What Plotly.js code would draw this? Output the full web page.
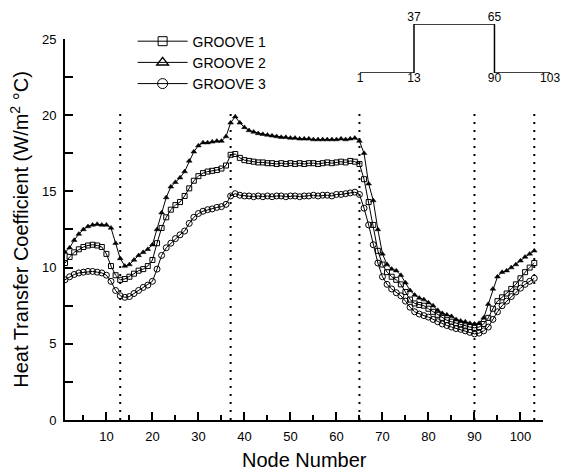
<!DOCTYPE html>
<html>
<head>
<meta charset="utf-8">
<script src="https://cdn.plot.ly/plotly-3.0.1.min.js"></script>
<style>html,body{margin:0;padding:0;background:#fff;}#chart{width:565px;height:471px;}</style>
</head>
<body>
<div id="chart"></div>
<script>
// Node numbers 1..103
var nodes = [];
for (var i = 1; i <= 103; i++) nodes.push(i);

var groove1 = [
  10.3, 10.7, 11.0, 11.2, 11.35, 11.45, 11.5, 11.45, 11.35, 10.9,
  10.1, 9.5, 9.2, 9.25, 9.4, 9.6, 9.8, 9.9, 10.1, 10.5,
  11.6, 12.6, 13.3, 13.8, 14.1, 14.3, 14.7, 15.2, 15.7, 16.0,
  16.2, 16.3, 16.35, 16.4, 16.5, 16.7, 17.4, 17.45, 17.2, 17.05,
  17.0, 16.95, 16.9, 16.9, 16.85, 16.85, 16.8, 16.85, 16.8, 16.85,
  16.8, 16.85, 16.8, 16.85, 16.85, 16.8, 16.85, 16.9, 16.85, 16.9,
  16.95, 16.9, 17.0, 16.95, 16.8, 15.8, 14.3, 12.8, 11.1, 10.2,
  9.7, 9.4, 9.2, 8.9, 8.4, 7.9, 7.65, 7.55, 7.5, 7.3,
  7.1, 6.9, 6.7, 6.55, 6.45, 6.35, 6.25, 6.15, 6.1, 6.05,
  6.1, 6.3, 6.7, 7.3, 7.8, 8.05, 8.3, 8.6, 8.9, 9.3,
  9.7, 10.0, 10.3
];

var groove2 = [
  11.0, 11.3, 11.8, 12.2, 12.5, 12.7, 12.8, 12.85, 12.8, 12.8,
  12.6, 11.6, 10.6, 10.1, 10.2, 10.5, 10.8, 11.0, 11.2, 11.5,
  12.5, 13.6, 14.6, 15.3, 15.6, 15.9, 16.3, 17.0, 17.6, 18.0,
  18.2, 18.2, 18.25, 18.3, 18.3, 18.6, 19.5, 19.9, 19.5, 19.2,
  19.0, 18.9, 18.8, 18.75, 18.7, 18.65, 18.6, 18.55, 18.55, 18.5,
  18.5, 18.45, 18.45, 18.45, 18.4, 18.4, 18.4, 18.4, 18.4, 18.4,
  18.45, 18.4, 18.45, 18.5, 18.3, 17.5, 15.5, 14.4, 12.5, 10.9,
  10.2, 9.9, 9.8, 9.5, 9.0, 8.5, 8.2, 8.0, 7.9, 7.7,
  7.5, 7.2, 7.0, 6.9, 6.8, 6.6, 6.5, 6.45, 6.35, 6.3,
  6.35, 6.7, 7.6, 8.6, 9.4, 9.7, 9.8, 10.0, 10.2, 10.45,
  10.7, 10.9, 11.1
];

var groove3 = [
  9.2, 9.4, 9.55, 9.65, 9.7, 9.75, 9.75, 9.7, 9.65, 9.5,
  9.1, 8.5, 8.15, 8.05, 8.1, 8.3, 8.5, 8.7, 8.85, 9.1,
  9.9, 10.8, 11.3, 11.6, 11.9, 12.15, 12.4, 12.9, 13.3, 13.55,
  13.7, 13.8, 13.85, 13.95, 14.0, 14.15, 14.7, 14.85, 14.75, 14.7,
  14.7, 14.65, 14.7, 14.65, 14.7, 14.65, 14.7, 14.7, 14.65, 14.7,
  14.7, 14.65, 14.7, 14.7, 14.75, 14.7, 14.75, 14.75, 14.7, 14.8,
  14.8, 14.85, 14.9, 14.95, 14.8, 13.9, 12.8, 11.5, 10.3, 9.4,
  8.9, 8.6, 8.35, 8.15, 7.8, 7.4, 7.1, 6.95, 6.85, 6.75,
  6.6, 6.45, 6.3, 6.2, 6.1, 6.0, 5.95, 5.85, 5.75, 5.65,
  5.7, 5.85, 6.1, 6.6, 7.1, 7.5, 7.8, 8.1, 8.4, 8.65,
  8.9, 9.1, 9.3
];

var seriesNames = ['GROOVE 1', 'GROOVE 2', 'GROOVE 3'];

// Divider nodes (dotted verticals)
var dividerNodes = [13, 37, 65, 90, 103];
var dividerTop = 20.3;

// Inset groove profile (schematic)
var profileX = [0, 1, 1, 2.49, 2.49, 3.52];
var profileY = [0, 0, 1, 1, 0, 0];
var profileLabels = ['1', '13', '37', '65', '90', '103'];
var profileLabelPos = ['bottom center', 'bottom center', 'top center', 'top center', 'bottom center', 'bottom center'];

var xTickVals = [10, 20, 30, 40, 50, 60, 70, 80, 90, 100];
var yTickVals = [0, 5, 10, 15, 20, 25];

var FONT = 'Liberation Sans, Arial, sans-serif';

var traces = [
  {x: nodes, y: groove1, type: 'scatter', mode: 'lines+markers', name: seriesNames[0], showlegend: false,
   line: {color: '#000', width: 1}, marker: {symbol: 'square-open', size: 5, color: '#000', line: {width: 1, color: '#000'}}},
  {x: nodes, y: groove2, type: 'scatter', mode: 'lines+markers', name: seriesNames[1], showlegend: false,
   line: {color: '#000', width: 1}, marker: {symbol: 'triangle-up', size: 5, color: '#000', line: {width: 0.5, color: '#000'}}},
  {x: nodes, y: groove3, type: 'scatter', mode: 'lines+markers', name: seriesNames[2], showlegend: false,
   line: {color: '#000', width: 1}, marker: {symbol: 'circle-open', size: 6, color: '#000', line: {width: 1, color: '#000'}}},
  // legend entries (larger symbols as in the reference legend)
  {x: [null], y: [null], type: 'scatter', mode: 'lines+markers', name: seriesNames[0],
   line: {color: '#000', width: 1}, marker: {symbol: 'square-open', size: 9, color: '#000', line: {width: 1, color: '#000'}}},
  {x: [null], y: [null], type: 'scatter', mode: 'lines+markers', name: seriesNames[1],
   line: {color: '#000', width: 1}, marker: {symbol: 'triangle-up-open', size: 10, color: '#000', line: {width: 1.5, color: '#000'}}},
  {x: [null], y: [null], type: 'scatter', mode: 'lines+markers', name: seriesNames[2],
   line: {color: '#000', width: 1}, marker: {symbol: 'circle-open', size: 10, color: '#000', line: {width: 1, color: '#000'}}},
  // inset groove profile
  {x: profileX, y: profileY, xaxis: 'x2', yaxis: 'y2', type: 'scatter', mode: 'lines+text',
   text: profileLabels, textposition: profileLabelPos, showlegend: false, hoverinfo: 'skip',
   textfont: {family: FONT, size: 12, color: '#000'}, line: {color: '#000', width: 1.5}, cliponaxis: false}
];

var shapes = dividerNodes.map(function (n) {
  return {type: 'line', xref: 'x', yref: 'y', x0: n, x1: n, y0: 0, y1: dividerTop,
          line: {color: '#000', width: 2, dash: '2px,6px'}};
});

var layout = {
  width: 565, height: 471,
  margin: {l: 65, r: 10, t: 10, b: 51},
  paper_bgcolor: '#fff', plot_bgcolor: '#fff',
  font: {family: FONT, color: '#000', size: 13},
  showlegend: true,
  legend: {x: 0.138, y: 0.962, xanchor: 'left', yanchor: 'top', bgcolor: 'rgba(0,0,0,0)',
           font: {family: FONT, size: 14, color: '#000'}, itemwidth: 50, tracegroupgap: 0},
  xaxis: {
    domain: [0, 0.9765], range: [1, 105], showgrid: false, zeroline: false,
    showline: true, linecolor: '#000', linewidth: 2,
    tickmode: 'array', tickvals: xTickVals, ticks: 'inside', ticklen: 8, tickwidth: 2, tickcolor: '#000',
    minor: {dtick: 5, tick0: 0, ticks: 'inside', ticklen: 5, tickwidth: 2, tickcolor: '#000', showgrid: false},
    tickfont: {family: FONT, size: 13, color: '#000'}, ticklabelstandoff: 3,
    title: {text: 'Node Number', font: {family: FONT, size: 20, color: '#000'}, standoff: 10}
  },
  yaxis: {
    domain: [0, 0.9293], range: [0, 25], showgrid: false, zeroline: false,
    showline: true, linecolor: '#000', linewidth: 2,
    tickmode: 'array', tickvals: yTickVals, ticks: 'inside', ticklen: 8, tickwidth: 2, tickcolor: '#000',
    minor: {dtick: 2.5, tick0: 0, ticks: 'inside', ticklen: 8, tickwidth: 2, tickcolor: '#000', showgrid: false},
    tickfont: {family: FONT, size: 13, color: '#000'}, ticklabelstandoff: 4,
    title: {text: 'Heat Transfer Coefficient (W/m<sup>2</sup> °C)', font: {family: FONT, size: 20, color: '#000'}, standoff: 8}
  },
  xaxis2: {domain: [0.602, 0.990], range: [0, 3.52], anchor: 'y2', visible: false, fixedrange: true},
  yaxis2: {domain: [0.8463, 0.9659], range: [0, 1], anchor: 'x2', visible: false, fixedrange: true},
  shapes: shapes
};

Plotly.newPlot('chart', traces, layout, {displayModeBar: false, staticPlot: true});
</script>
</body>
</html>
